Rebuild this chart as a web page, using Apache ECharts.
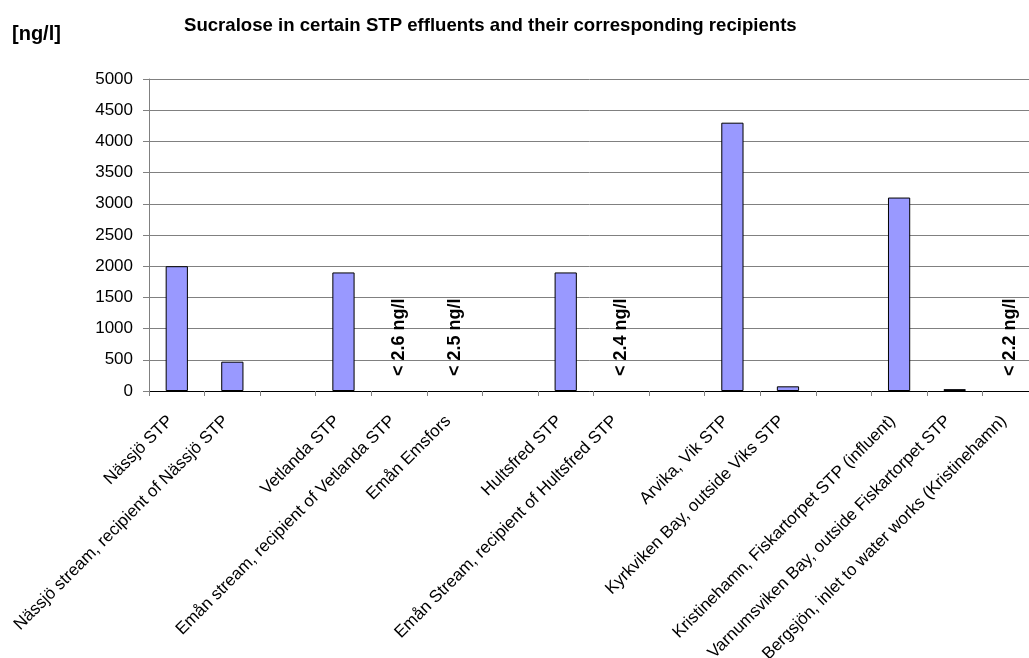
<!DOCTYPE html>
<html>
<head>
<meta charset="utf-8">
<script src="https://cdn.jsdelivr.net/npm/echarts@6/dist/echarts.min.js"></script>
<style>
html,body{margin:0;padding:0;background:#fff;}
#chart{width:1029px;height:658px;}
</style>
</head>
<body>
<div id="chart"></div>
<script>
const titleText = 'Sucralose in certain STP effluents and their corresponding recipients';
const unitText = '[ng/l]';
const categories = [
  'Nässjö STP',
  'Nässjö stream, recipient of Nässjö STP',
  '',
  'Vetlanda STP',
  'Emån stream, recipient of Vetlanda STP',
  'Emån Emsfors',
  '',
  'Hultsfred STP',
  'Emån Stream, recipient of Hultsfred STP',
  '',
  'Arvika, Vik STP',
  'Kyrkviken Bay, outside Viks STP',
  '',
  'Kristinehamn, Fiskartorpet STP (influent)',
  'Varnumsviken Bay, outside Fiskartorpet STP',
  'Bergsjön, inlet to water works (Kristinehamn)'
];
const values = [2000, 470, null, 1900, 0, 0, null, 1900, 0, null, 4300, 75, null, 3100, 30, 0];
const limitLabels = ['', '', '', '', '< 2.6 ng/l', '< 2.5 ng/l', '', '', '< 2.4 ng/l', '', '', '', '', '', '', '< 2.2 ng/l'];
const yMin = 0, yMax = 5000, yInterval = 500;

const FONT = '"Liberation Sans", Arial, sans-serif';

const seriesData = values.map((v, i) => {
  if (limitLabels[i]) {
    return {
      value: v,
      itemStyle: { borderWidth: 0 },
      label: {
        show: true,
        formatter: limitLabels[i],
        position: 'top',
        rotate: 90,
        align: 'left',
        verticalAlign: 'middle',
        distance: 15,
        fontSize: 18,
        fontWeight: 'bold',
        color: '#000',
        fontFamily: FONT
      }
    };
  }
  return v;
});

const chart = echarts.init(document.getElementById('chart'), null, { renderer: 'canvas' });
chart.setOption({
  animation: false,
  backgroundColor: '#ffffff',
  title: [
    {
      text: titleText,
      left: 179,
      top: 11,
      textStyle: { fontSize: 18.6, fontWeight: 'bold', color: '#000', fontFamily: FONT }
    },
    {
      text: unitText,
      left: 7,
      top: 19,
      textStyle: { fontSize: 20, fontWeight: 'bold', color: '#000', fontFamily: FONT }
    }
  ],
  grid: {
    left: 149,
    right: -9,
    top: 79,
    bottom: 267,
    containLabel: false,
    outerBoundsMode: 'none'
  },
  xAxis: {
    type: 'category',
    data: categories,
    boundaryGap: true,
    axisLine: { show: true, lineStyle: { color: '#000', width: 1 } },
    axisTick: { show: true, length: 5, alignWithLabel: false, interval: 0, lineStyle: { color: '#808080' } },
    axisLabel: {
      interval: 0,
      rotate: 45,
      margin: 21,
      padding: [0, 9, 0, 0],
      fontSize: 17,
      color: '#000',
      fontFamily: FONT
    },
    splitLine: { show: false }
  },
  yAxis: {
    type: 'value',
    min: yMin,
    max: yMax,
    interval: yInterval,
    axisLine: { show: true, lineStyle: { color: '#808080', width: 1 } },
    axisTick: { show: true, length: 6, lineStyle: { color: '#808080' } },
    axisLabel: { margin: 16, fontSize: 17, color: '#000', fontFamily: FONT, formatter: (v) => String(v) },
    splitLine: { show: true, lineStyle: { color: '#808080', width: 1 } }
  },
  series: [{
    type: 'bar',
    data: seriesData,
    barWidth: '40%',
    itemStyle: { color: '#9999FF', borderColor: '#000', borderWidth: 1 },
    label: { show: false }
  }]
});
</script>
</body>
</html>
